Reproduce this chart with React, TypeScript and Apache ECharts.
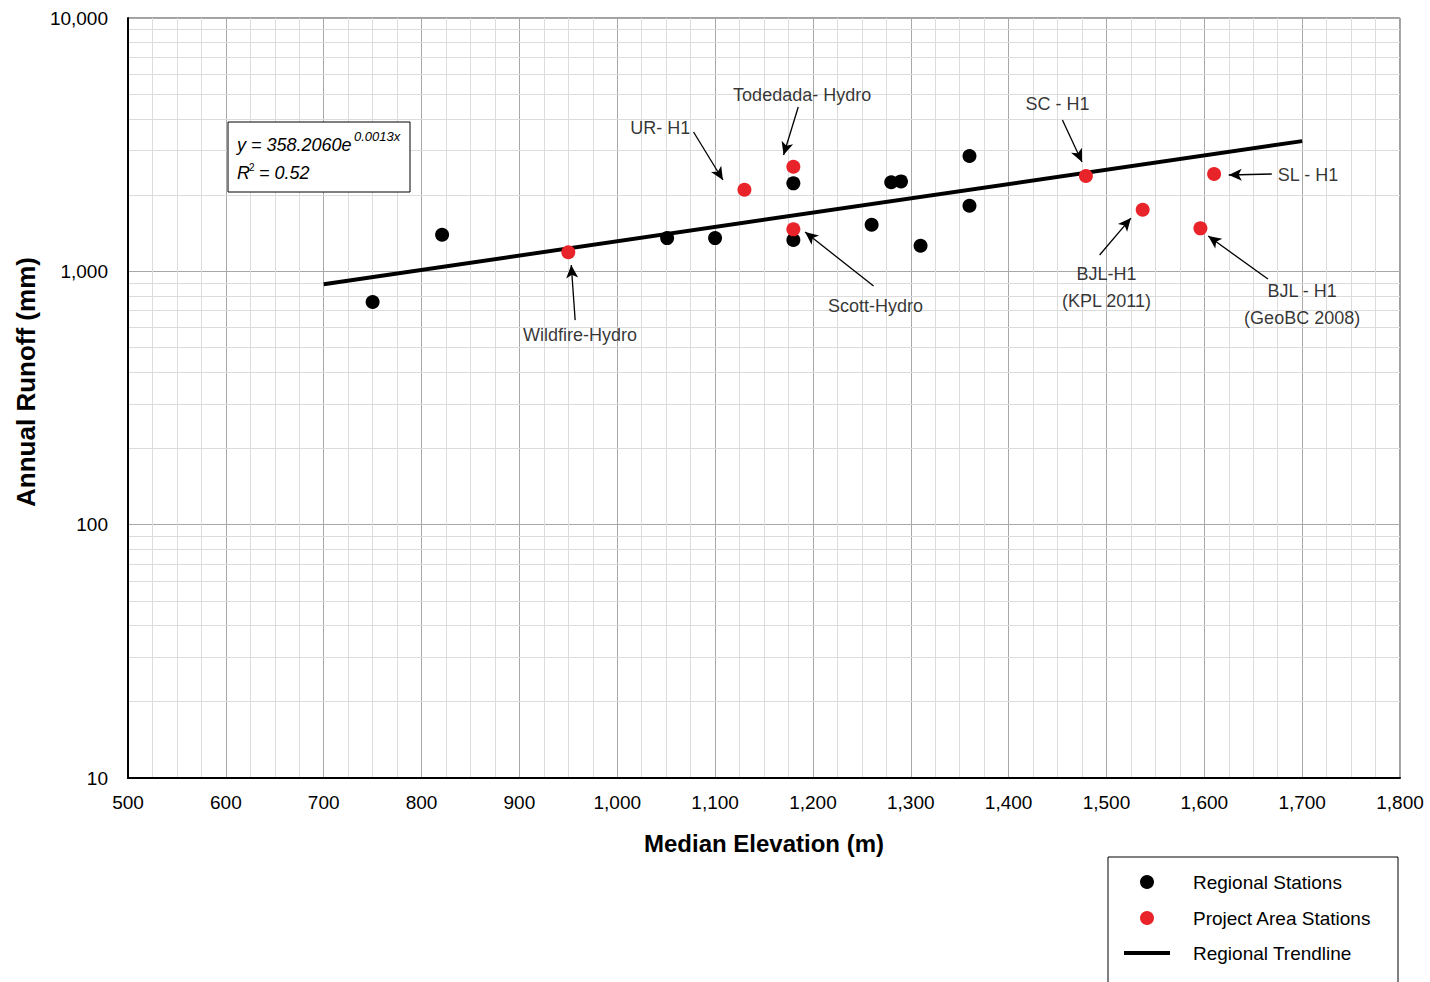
import React, { useEffect, useRef } from "react";
import * as echarts from "echarts";

// ---- Data ----
const regionalX = [750, 821, 1051, 1100, 1180, 1180, 1260, 1280, 1290, 1310, 1360, 1360];
const regionalY = [757, 1395, 1353, 1353, 2225, 1329, 1528, 2246, 2265, 1262, 2852, 1816];

const projectNames = [
  "Wildfire-Hydro",
  "UR-H1",
  "Todedada-Hydro",
  "Scott-Hydro",
  "SC-H1",
  "BJL-H1 (KPL 2011)",
  "BJL-H1 (GeoBC 2008)",
  "SL-H1",
];
const projectX = [950, 1130, 1180, 1180, 1479, 1537, 1596, 1610];
const projectY = [1189, 2100, 2588, 1465, 2378, 1750, 1478, 2422];

const trendX = [700, 1700];
const trendY = [890, 3266];

// annotation labels: text and anchor (data coords)
const annoText = [
  "Todedada- Hydro",
  "UR- H1",
  "Scott-Hydro",
  "Wildfire-Hydro",
  "SC - H1",
  "SL - H1",
  "BJL-H1\n(KPL 2011)",
  "BJL - H1\n(GeoBC 2008)",
];
const annoX = [1189, 1044, 1264, 962, 1450, 1706, 1500, 1700];
const annoY = [4966, 3680, 729, 560, 4576, 2400, 863, 739];

// arrows: [fromX, fromY, toX, toY]
const arrowFromX = [1185, 1078, 1262, 957, 1455, 1669, 1493, 1665];
const arrowFromY = [4453, 3548, 875, 642, 3956, 2422, 1160, 932];
const arrowToX = [1170, 1108, 1192, 953, 1475, 1625, 1525, 1604];
const arrowToY = [2879, 2293, 1429, 1059, 2701, 2400, 1623, 1378];

const yDecades = [10, 100, 1000];
const yMinorMultipliers = [2, 3, 4, 5, 6, 7, 8, 9];

const FONT = "'Liberation Sans', Arial, sans-serif";
const RED = "#e8242a";

const fmt = (v: number) => Math.round(v).toLocaleString("en-US");

export default function App() {
  const ref = useRef<HTMLDivElement>(null);

  useEffect(() => {
    if (!ref.current) return;
    const chart = echarts.init(ref.current, undefined, { renderer: "svg" });

    const minorLines: any[] = [];
    yDecades.forEach((d) =>
      yMinorMultipliers.forEach((m) => minorLines.push({ yAxis: d * m }))
    );

    const arrows = arrowFromX.map((_, i) => [
      { coord: [arrowFromX[i], arrowFromY[i]] },
      { coord: [arrowToX[i], arrowToY[i]] },
    ]);

    const legendText = (pad: number) => ({
      fontSize: 19,
      color: "#000",
      fontFamily: FONT,
      lineHeight: 22,
      rich: { p: { width: pad, fontSize: 19 } },
    });

    const option: any = {
      animation: false,
      backgroundColor: "#fff",
      textStyle: { fontFamily: FONT },
      grid: {
        left: 128,
        right: 30,
        top: 18,
        bottom: 204,
        show: true,
        borderColor: "#404040",
        borderWidth: 1,
        containLabel: false,
      },
      legend: [
        {
          orient: "vertical",
          left: 1140,
          top: 871,
          padding: 0,
          data: [
            { name: "Regional Stations", icon: "circle" },
            { name: "Project Area Stations", icon: "circle" },
          ],
          itemWidth: 14,
          itemHeight: 14,
          itemGap: 14,
          selectedMode: false,
          formatter: (n: string) => "{p|}" + n,
          textStyle: legendText(34),
        },
        {
          orient: "vertical",
          left: 1124,
          top: 942,
          padding: 0,
          data: [
            {
              name: "Regional Trendline",
              icon: "path://M0,0 L46,0 L46,4 L0,4 Z",
              itemStyle: { color: "#000" },
            },
          ],
          itemWidth: 46,
          itemHeight: 14,
          selectedMode: false,
          formatter: (n: string) => "{p|}" + n,
          textStyle: legendText(18),
        },
      ],
      xAxis: {
        type: "value",
        min: 500,
        max: 1800,
        interval: 100,
        name: "Median Elevation (m)",
        nameLocation: "middle",
        nameGap: 53,
        nameTextStyle: { fontSize: 24, fontWeight: "bold", color: "#000", fontFamily: FONT },
        axisLine: { show: true, onZero: false, lineStyle: { color: "#000", width: 2 } },
        axisTick: { show: false },
        axisLabel: { fontSize: 19, color: "#000", margin: 15, formatter: fmt, fontFamily: FONT },
        splitLine: { show: true, lineStyle: { color: "#a8a8a8", width: 1 } },
        minorTick: { show: false, splitNumber: 4 },
        minorSplitLine: { show: true, lineStyle: { color: "#dcdcdc", width: 1 } },
      },
      yAxis: {
        type: "log",
        logBase: 10,
        min: 10,
        max: 10000,
        name: "Annual Runoff (mm)",
        nameLocation: "middle",
        nameGap: 89,
        nameRotate: 90,
        nameTextStyle: {
          fontSize: 26,
          fontWeight: "bold",
          color: "#000",
          fontFamily: FONT,
          padding: [0, 0, 0, 32],
        },
        axisLine: { show: true, onZero: false, lineStyle: { color: "#000", width: 2 } },
        axisTick: { show: false },
        axisLabel: { fontSize: 19, color: "#000", margin: 20, formatter: fmt, fontFamily: FONT },
        splitLine: { show: true, lineStyle: { color: "#a8a8a8", width: 1 } },
      },
      series: [
        {
          name: "minorGrid",
          type: "scatter",
          data: [],
          z: 0,
          silent: true,
          markLine: {
            z: 0,
            silent: true,
            symbol: ["none", "none"],
            label: { show: false },
            lineStyle: { color: "#dcdcdc", width: 1, type: "solid" },
            emphasis: { disabled: true },
            data: minorLines,
          },
        },
        {
          name: "Regional Stations",
          type: "scatter",
          symbol: "circle",
          symbolSize: 14,
          itemStyle: { color: "#000", opacity: 1 },
          z: 3,
          data: regionalX.map((x, i) => [x, regionalY[i]]),
        },
        {
          name: "Regional Trendline",
          type: "line",
          symbol: "none",
          lineStyle: { color: "#000", width: 4 },
          itemStyle: { color: "#000" },
          z: 4,
          data: trendX.map((x, i) => [x, trendY[i]]),
        },
        {
          name: "Project Area Stations",
          type: "scatter",
          symbol: "circle",
          symbolSize: 14,
          itemStyle: { color: RED, opacity: 1 },
          z: 5,
          data: projectX.map((x, i) => ({ name: projectNames[i], value: [x, projectY[i]] })),
        },
        {
          name: "annotations",
          type: "scatter",
          symbol: "circle",
          symbolSize: 1,
          silent: true,
          z: 6,
          itemStyle: { color: "rgba(0,0,0,0)" },
          label: {
            show: true,
            position: "inside",
            formatter: "{b}",
            fontSize: 18,
            color: "#000",
            fontFamily: FONT,
            lineHeight: 27,
            align: "center",
            verticalAlign: "middle",
          },
          labelLayout: { hideOverlap: false },
          data: annoX.map((x, i) => ({ name: annoText[i], value: [x, annoY[i]] })),
          markLine: {
            silent: true,
            symbol: ["none", "arrow"],
            symbolSize: [9, 13],
            label: { show: false },
            emphasis: { disabled: true },
            lineStyle: { color: "#000", width: 1.3, type: "solid" },
            data: arrows,
          },
        },
      ],
      graphic: [
        {
          type: "rect",
          z: 50,
          shape: { x: 228, y: 122, width: 182, height: 70 },
          style: { fill: "#fff", stroke: "#000", lineWidth: 1 },
        },
        {
          type: "rect",
          z: 50,
          silent: true,
          shape: { x: 1108, y: 857, width: 290, height: 140 },
          style: { fill: "none", stroke: "#000", lineWidth: 1 },
        },
        {
          type: "text",
          z: 51,
          x: 237,
          y: 145,
          style: {
            text: "y = 358.2060e",
            fontSize: 18,
            fontStyle: "italic",
            fontFamily: FONT,
            fill: "#000",
            verticalAlign: "middle",
          },
        },
        {
          type: "text",
          z: 51,
          x: 354,
          y: 136,
          style: {
            text: "0.0013x",
            fontSize: 13,
            fontStyle: "italic",
            fontFamily: FONT,
            fill: "#000",
            verticalAlign: "middle",
          },
        },
        {
          type: "text",
          z: 51,
          x: 237,
          y: 173,
          style: {
            text: "R",
            fontSize: 18,
            fontStyle: "italic",
            fontFamily: FONT,
            fill: "#000",
            verticalAlign: "middle",
          },
        },
        {
          type: "text",
          z: 51,
          x: 249,
          y: 167,
          style: {
            text: "2",
            fontSize: 10,
            fontFamily: FONT,
            fill: "#000",
            verticalAlign: "middle",
          },
        },
        {
          type: "text",
          z: 51,
          x: 259,
          y: 173,
          style: {
            text: "= 0.52",
            fontSize: 18,
            fontStyle: "italic",
            fontFamily: FONT,
            fill: "#000",
            verticalAlign: "middle",
          },
        },
      ],
    };

    chart.setOption(option);
    return () => chart.dispose();
  }, []);

  return (
    <div
      ref={ref}
      style={{ position: "fixed", left: 0, top: 0, width: 1430, height: 982, background: "#fff" }}
    />
  );
}
